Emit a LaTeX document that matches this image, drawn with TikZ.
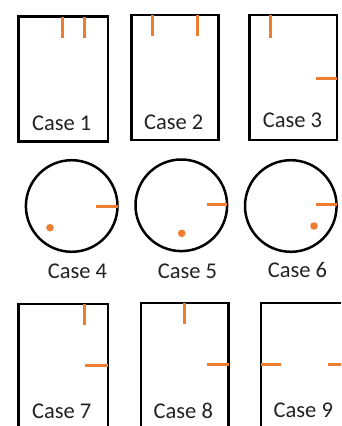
\documentclass[tikz,border=0pt]{standalone}
\usepackage{fontspec}
\setmainfont{Carlito}
\definecolor{mark}{HTML}{ED7D31}
\definecolor{txt}{HTML}{222222}
\tikzset{
  frame/.style={draw=black, line width=2.5pt},
  tick/.style={draw=mark, line width=3pt},
  dotmark/.style={fill=mark},
  lbl/.style={anchor=base, font=\fontsize{22.5}{26}\selectfont, text=txt, inner sep=0pt}
}
\begin{document}
\begin{tikzpicture}[x=1pt,y=-1pt]
\useasboundingbox (0,0) rectangle (341,426);
\clip (0,0) rectangle (341,426);
% row 1
\draw[frame] (18.5,16.5) rectangle (107.8,141.5);
\draw[frame] (131.5,15) rectangle (218.5,140);
\draw[frame] (249.5,15.2) rectangle (336.8,140);
\draw[tick] (62,16.5) -- (62,37.7);
\draw[tick] (84.3,16.5) -- (84.3,37.7);
\draw[tick] (152.3,15) -- (152.3,36.3);
\draw[tick] (197,15) -- (197,36.3);
\draw[tick] (270,15.2) -- (270,37.7);
\draw[tick] (316,78) -- (336.8,78);
\node[lbl] (c1) at (61.7,130) {Case 1};
\node[lbl] (c2) at (173.7,129.3) {Case 2};
\node[lbl] (c3) at (292.5,127.7) {Case 3};
% row 2
\draw[frame] (71.7,206) circle (45.8);
\draw[frame] (181.3,205.3) circle (45.8);
\draw[frame] (290.8,206) circle (45.8);
\draw[tick] (96,206) -- (117.5,206);
\draw[tick] (206.7,204.7) -- (227.1,204.7);
\draw[tick] (316,204.7) -- (336.6,204.7);
\fill[dotmark] (50,227.7) circle (3.8);
\fill[dotmark] (181.7,233.3) circle (3.8);
\fill[dotmark] (314,226) circle (3.8);
\node[lbl] (c4) at (77.5,278.5) {Case 4};
\node[lbl] (c5) at (187.5,278.5) {Case 5};
\node[lbl] (c6) at (297.5,277.3) {Case 6};
% row 3
\draw[frame] (18.5,304) rectangle (107.8,440);
\draw[frame] (141,303) rectangle (228.5,440);
\draw[frame] (261,303) rectangle (360,440);
\draw[tick] (84.3,304) -- (84.3,325.3);
\draw[tick] (85.3,365.7) -- (107.8,365.7);
\draw[tick] (184,303) -- (184,324.3);
\draw[tick] (207.3,364.3) -- (228.5,364.3);
\draw[tick] (261,364.3) -- (281,364.3);
\draw[tick] (327.7,364.3) -- (348,364.3);
\node[lbl] (c7) at (61.7,418.3) {Case 7};
\node[lbl] (c8) at (183.3,418) {Case 8};
\node[lbl] (c9) at (303.3,417.7) {Case 9};
\end{tikzpicture}
\end{document}
